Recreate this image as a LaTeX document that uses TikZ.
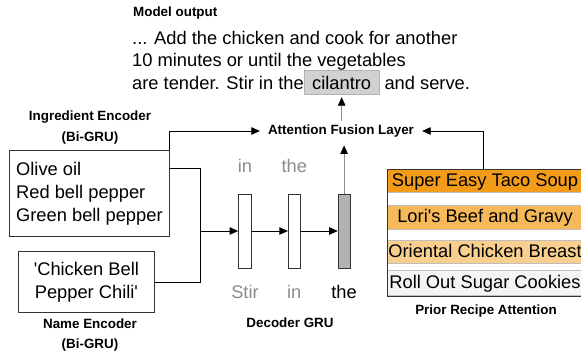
\documentclass[tikz,border=0pt]{standalone}
\usepackage{fontspec}
\setmainfont{Liberation Sans}
\usetikzlibrary{arrows.meta,positioning,calc}
\definecolor{recA}{HTML}{F39C1A}\definecolor{recB}{HTML}{F6B95A}
\definecolor{recC}{HTML}{F8CF8F}\definecolor{recD}{HTML}{F4F4F4}
\begin{document}
\begin{tikzpicture}[x=1pt,y=-1pt,
  lab/.style={font=\fontsize{13.4}{20.5}\selectfont\bfseries,align=center,inner sep=1pt},
  txt/.style={font=\fontsize{18.3}{23}\selectfont,inner sep=0pt},
  enc/.style={txt,draw=black!80,line width=0.8pt},
  cell/.style={draw=black!80,line width=0.8pt,minimum width=13pt,minimum height=74pt,inner sep=0pt},
  rec/.style={txt,draw=black!25,minimum width=196pt,minimum height=23pt,text height=14pt,text depth=3pt},
  tok/.style={txt,text height=13pt,text depth=0pt},
  arr/.style={line width=0.8pt,-{Triangle[length=8.5pt,width=7.5pt]}},
  garr/.style={line width=0.8pt,draw=black!45,-{Triangle[length=8.5pt,width=7.5pt,color=black]}}]
\useasboundingbox (0,0) rectangle (581,356);\clip (0,0) rectangle (581,356);
\node[lab,anchor=west] (mo) at (132,13) {Model output};
\node[txt,anchor=base west] (o1) at (132,44) {... Add the chicken and cook for another};
\node[txt,anchor=base west] (o2) at (132,66.5) {10 minutes or until the vegetables};
\node[txt,anchor=base west] (o3) at (132,89) {are tender. Stir in the};
\node[txt,anchor=base west,fill=black!18,draw=black!30,inner xsep=8pt,inner ysep=3pt,text height=16pt,text depth=2pt] (cil) at (o3.base east) {cilantro};
\node[txt,anchor=base west] (o4) at ([xshift=5pt]cil.base east) {and serve.};
\node[lab,inner xsep=8pt,inner ysep=4pt] (afl) at (341,131) {Attention Fusion Layer};
% encoders
\node[lab] (ingl) at (90,127.5) {Ingredient Encoder\\(Bi-GRU)};
\node[enc,anchor=north west,minimum width=160pt,minimum height=86pt,align=left] (ing) at (9,150) {Olive oil\\Red bell pepper\\Green bell pepper};
\node[enc,anchor=north west,minimum width=136pt,minimum height=61pt,align=center] (nam) at (18,251) {\textquotesingle Chicken Bell\\Pepper Chili\textquotesingle};
\node[lab] (naml) at (90,335) {Name Encoder\\(Bi-GRU)};
% decoder
\node[cell] (c1) at (245,231) {};\node[cell,right=36pt of c1,minimum width=12pt] (c2) {};
\node[cell,right=37pt of c2,minimum width=12pt,fill=black!30] (c3) {};
\node[tok,text=black!45] (i1) at (c1 |- 0,166) {in};\node[tok,text=black!45] (i2) at (c2 |- 0,166) {the};
\node[tok,text=black!45] (s1) at (c1 |- 0,292) {Stir};\node[tok,text=black!45] (s2) at (c2 |- 0,292) {in};
\node[tok] (s3) at (c3 |- 0,292) {the};
\node[lab] (dgru) at (290,323) {Decoder GRU};
% prior recipes
\node[rec,fill=recA] (r1) at (485,180.5) {Super Easy Taco Soup};
\node[rec,fill=recB,minimum height=24pt] (r2) at (485,217) {Lori\textquotesingle s Beef and Gravy};
\node[rec,fill=recC] (r3) at (485,251.5) {Oriental Chicken Breast};
\node[rec,fill=recD,minimum height=25pt] (r4) at (485,282.5) {Roll Out Sugar Cookies};
\node[draw=black!80,line width=0.8pt,minimum width=196pt,minimum height=127pt,anchor=north west,inner sep=0pt] (pan) at (387,169) {};
\node[lab] (pra) at (486,311) {Prior Recipe Attention};
% connectors
\coordinate (jn) at (200,231);\coordinate (pt) at (483,169);
\draw[line width=0.8pt] ([yshift=25pt]ing.east) -| (jn);\draw[line width=0.8pt] (nam.east) -| (jn);
\draw[arr] (jn) -- (c1.west);\draw[arr] (c1) -- (c2);\draw[arr] (c2) -- (c3);
\draw[arr] (ing.north east) |- (afl.west);\draw[arr] (pt) |- (afl.east);
\draw[garr,shorten >=4pt] (c3.north) -- (c3.north |- afl.south);
\draw[garr,shorten >=3pt] (afl.north -| cil) -- (cil.south);
\end{tikzpicture}
\end{document}
